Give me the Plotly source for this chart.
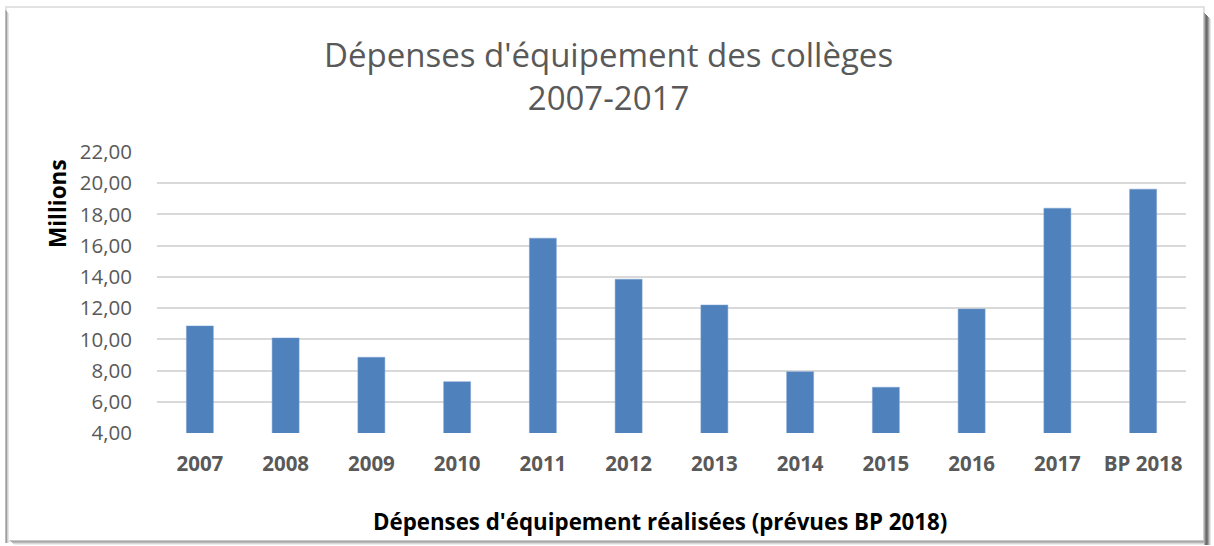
import plotly.graph_objects as go

categories = ["2007", "2008", "2009", "2010", "2011", "2012", "2013",
              "2014", "2015", "2016", "2017", "BP 2018"]
values = [10.86, 10.09, 8.85, 7.29, 16.48, 13.85, 12.2, 7.93, 6.93, 11.95, 18.4, 19.62]
y_ticks = [4, 6, 8, 10, 12, 14, 16, 18, 20, 22]
y_tick_labels = [f"{v:.2f}".replace(".", ",") for v in y_ticks]

W, H = 1214, 546
L, R, T, B = 157, 28, 152, 113
FONT = "Open Sans"


def px_x(px):
    return (px - L) / (W - L - R)


def px_y(py):
    return (H - B - py) / (H - T - B)


fig = go.Figure(go.Bar(
    x=categories, y=values,
    marker=dict(color="#4f81bd", line=dict(color="#7ea3d3", width=0.5)),
    width=0.315,
    hoverinfo="x+y",
))

shapes = []
# chart frame with a soft shadow on the right and bottom
shapes.append(dict(type="rect", xref="paper", yref="paper",
                   x0=px_x(6), x1=px_x(1204), y0=px_y(541), y1=px_y(7),
                   line=dict(color="#d9d9d9", width=1.5), layer="below"))
for i, c in enumerate(["#d0d0d0", "#a8a8a8", "#808080", "#6a6a6a", "#7a7a7a",
                       "#a0a0a0", "#c8c8c8", "#e8e8e8"]):
    shapes.append(dict(type="line", xref="paper", yref="paper",
                       x0=px_x(1203.5 + i), x1=px_x(1203.5 + i), y0=px_y(545), y1=px_y(12 + i),
                       line=dict(color=c, width=1)))
for i, c in enumerate(["#c8c8c8", "#a8a8a8", "#b8b8b8", "#d8d8d8", "#eeeeee"]):
    shapes.append(dict(type="line", xref="paper", yref="paper",
                       x0=px_x(10 + i), x1=px_x(1204), y0=px_y(540.5 + i), y1=px_y(540.5 + i),
                       line=dict(color=c, width=1)))
for i, c in enumerate(["#bcbcbc", "#9e9e9e", "#cfcfcf", "#e6e6e6"]):
    shapes.append(dict(type="line", xref="paper", yref="paper",
                       x0=px_x(5.5 + i), x1=px_x(5.5 + i), y0=px_y(543), y1=px_y(10 + i),
                       line=dict(color=c, width=1)))

annotations = [
    dict(text="Dépenses d'équipement des collèges<br>2007-2017",
         xref="paper", yref="paper", x=px_x(608), y=px_y(76),
         xanchor="center", yanchor="middle", showarrow=False,
         font=dict(family=FONT, size=33, color="#595959")),
    dict(text="<b>Millions</b>", textangle=-90,
         xref="paper", yref="paper", x=px_x(57), y=px_y(204),
         xanchor="center", yanchor="middle", showarrow=False,
         font=dict(family=FONT, size=22.5, color="#000000")),
    dict(text="<b>Dépenses d'équipement réalisées (prévues BP 2018)</b>",
         xref="paper", yref="paper", x=px_x(660), y=px_y(521),
         xanchor="center", yanchor="middle", showarrow=False,
         font=dict(family=FONT, size=22.3, color="#000000")),
]

fig.update_layout(
    width=W, height=H,
    margin=dict(l=L, r=R, t=T, b=B, pad=0),
    plot_bgcolor="white", paper_bgcolor="white",
    showlegend=False,
    shapes=shapes,
    annotations=annotations,
    xaxis=dict(
        type="category",
        tickfont=dict(family=FONT, size=20.5, color="#595959", weight="bold"),
        showgrid=False, showline=False, ticks="", ticklabelstandoff=16,
    ),
    yaxis=dict(
        range=[4, 22],
        tickvals=y_ticks, ticktext=y_tick_labels,
        tickfont=dict(family=FONT, size=20.5, color="#595959"),
        gridcolor="#d9d9d9", gridwidth=1.5,
        zeroline=False, showline=False, ticks="", ticklabelstandoff=24,
    ),
)

# the page gets the default 8px body margin; drop it so the chart sits at 0,0
fig.write_html("out.html", config={"displayModeBar": False},
               post_script="document.body.style.margin='0';")
